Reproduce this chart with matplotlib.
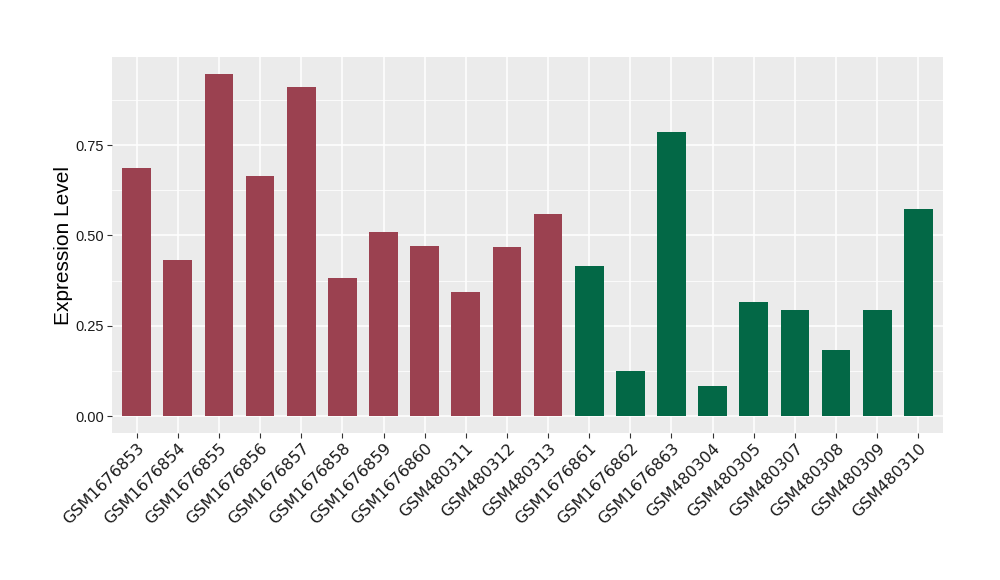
import numpy as np
import matplotlib.pyplot as plt
from matplotlib.ticker import MultipleLocator

plt.rcParams["font.family"] = ["Liberation Sans", "DejaVu Sans"]

# =====================================================
# Data
# =====================================================

samples = [
    "GSM1676853", "GSM1676854", "GSM1676855", "GSM1676856", "GSM1676857",
    "GSM1676858", "GSM1676859", "GSM1676860", "GSM480311", "GSM480312",
    "GSM480313", "GSM1676861", "GSM1676862", "GSM1676863", "GSM480304",
    "GSM480305", "GSM480307", "GSM480308", "GSM480309", "GSM480310",
]

values = [
    0.686, 0.432, 0.947, 0.664, 0.911,
    0.382, 0.509, 0.471, 0.343, 0.468,
    0.559, 0.415, 0.125, 0.786, 0.083,
    0.316, 0.293, 0.183, 0.293, 0.573,
]

groups = ["A"] * 11 + ["B"] * 9

group_colors = {"A": "#9B4150", "B": "#036846"}

# =====================================================
# Plot
# =====================================================

fig = plt.figure(figsize=(10, 5.8), dpi=100)

ax = fig.add_axes([0.112, 0.2534, 0.831, 0.6483])

ax.set_facecolor("#EBEBEB")

x = np.arange(len(samples))

colors = [group_colors[g] for g in groups]

ax.bar(x, values, width=0.7, color=colors, zorder=3)

ax.set_xlim(-0.6, len(samples) - 0.4)

ax.set_ylim(-0.047, 0.994)

ax.yaxis.set_major_locator(MultipleLocator(0.25))

ax.yaxis.set_minor_locator(MultipleLocator(0.125))

ax.set_xticks(x)

ax.set_xticklabels(samples, rotation=45, ha="right", rotation_mode="anchor",
                   fontsize=11.5, color="#1A1A1A", family="DejaVu Sans")

ax.set_yticks([0, 0.25, 0.5, 0.75])

ax.set_yticklabels(["0.00", "0.25", "0.50", "0.75"], fontsize=10.5,
                   color="#1A1A1A")

ax.grid(which="major", color="white", linewidth=1.1, zorder=0)

ax.grid(which="minor", axis="y", color="white", linewidth=0.55, zorder=0)

ax.tick_params(which="major", length=3.5, color="#333333", width=0.8,
               pad=2)

ax.tick_params(which="minor", length=0)

for s in ax.spines.values():

    s.set_visible(False)

ax.set_ylabel("Expression Level", fontsize=15, color="black", labelpad=2)

fig.savefig("out.png", dpi=100)
